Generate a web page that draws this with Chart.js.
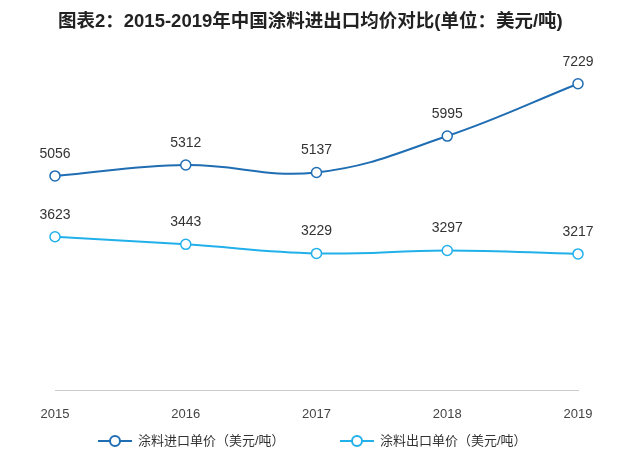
<!DOCTYPE html>
<html><head><meta charset="utf-8">
<script src="https://cdn.jsdelivr.net/npm/chart.js@4"></script>
<style>body{margin:0;background:#fff}#wrap{width:640px;height:458px}</style>
</head><body><div id="wrap"><canvas id="c"></canvas></div>
<script>
const years = ['2015', '2016', '2017', '2018', '2019'];
const importPrice = [5056, 5312, 5137, 5995, 7229];
const exportPrice = [3623, 3443, 3229, 3297, 3217];
const seriesNames = ['涂料进口单价（美元/吨）', '涂料出口单价（美元/吨）'];
const colors = ['#1f6db3', '#21b0ea'];
const font = '"Liberation Sans", "Noto Sans CJK SC", sans-serif';

// labels above points, title and the legend row are drawn by hand
const extras = {
  id: 'extras',
  afterDatasetsDraw(chart) {
    const ctx = chart.ctx;
    ctx.save();
    ctx.fillStyle = '#333';
    ctx.font = '14px ' + font;
    ctx.textAlign = 'center';
    ctx.textBaseline = 'bottom';
    chart.data.datasets.forEach((ds, i) => {
      chart.getDatasetMeta(i).data.forEach((pt, j) => {
        ctx.fillText(ds.data[j], pt.x, pt.y - 15);
      });
    });
    ctx.font = 'bold 18.5px ' + font;
    ctx.fillStyle = '#222';
    ctx.textAlign = 'left';
    ctx.textBaseline = 'middle';
    ctx.fillText('图表2：2015-2019年中国涂料进出口均价对比(单位：美元/吨)', 58, 22);
    // legend
    ctx.font = '13px ' + font;
    const xs = [98, 340];
    xs.forEach((x, i) => {
      const y = 441;
      ctx.strokeStyle = colors[i];
      ctx.lineWidth = 2;
      ctx.beginPath(); ctx.moveTo(x, y); ctx.lineTo(x + 34, y); ctx.stroke();
      ctx.fillStyle = '#fff';
      ctx.beginPath(); ctx.arc(x + 17, y, 5, 0, Math.PI * 2); ctx.fill(); ctx.stroke();
      ctx.fillStyle = '#333';
      ctx.fillText(seriesNames[i], x + 40, y);
    });
    ctx.restore();
  }
};

const mk = (i, data) => ({
  label: seriesNames[i],
  data: data,
  borderColor: colors[i],
  backgroundColor: '#fff',
  borderWidth: 2,
  pointRadius: 5,
  pointBorderWidth: 1.5,
  pointBackgroundColor: '#fff',
  tension: 0.4,
});

new Chart(document.getElementById('c'), {
  type: 'line',
  data: { labels: years, datasets: [mk(0, importPrice), mk(1, exportPrice)] },
  options: {
    responsive: true,
    maintainAspectRatio: false,
    animation: false,
    layout: { padding: { top: 51, left: 55, right: 62, bottom: 28 } },
    plugins: { legend: { display: false }, tooltip: { enabled: false } },
    scales: {
      x: {
        offset: false,
        grid: { display: false },
        border: { color: '#ccc' },
        ticks: { color: '#444', font: { size: 13, family: font }, padding: 8 },
      },
      y: { display: false, min: 0, max: 8000 },
    },
  },
  plugins: [extras],
});
</script></body></html>
